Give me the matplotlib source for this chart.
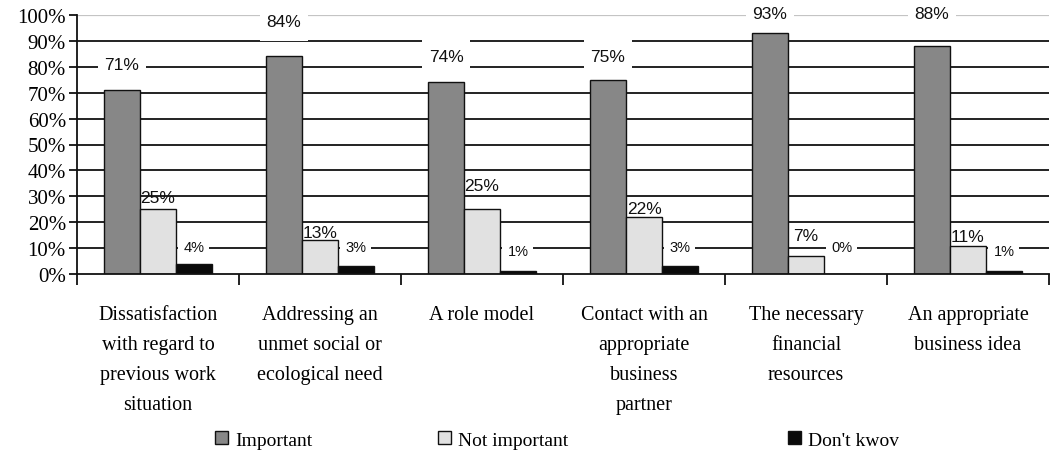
import matplotlib
matplotlib.use("Agg")
import matplotlib.pyplot as plt
import matplotlib.transforms as mtransforms
from matplotlib.patches import Patch, Rectangle
import numpy as np

# ── Data ──────────────────────────────────────────────────────────────────────
categories = [
    "Dissatisfaction\nwith regard to\nprevious work\nsituation",
    "Addressing an\nunmet social or\necological need",
    "A role model",
    "Contact with an\nappropriate\nbusiness\npartner",
    "The necessary\nfinancial\nresources",
    "An appropriate\nbusiness idea",
]
series_names = ["Important", "Not important", "Don't kwov"]
important     = [71, 84, 74, 75, 93, 88]
not_important = [25, 13, 25, 22, 7, 11]
dont_know     = [4, 3, 1, 3, 0, 1]
yticks = [0, 10, 20, 30, 40, 50, 60, 70, 80, 90, 100]

# label heights (in % units) where the value labels sit
label_y = [
    [81, 97.5, 83.8, 83.8, 100.4, 100.4],
    [29.7, 16.2, 34, 25.1, 14.7, 14.3],
    [10.4, 10.4, 8.9, 10.4, 10.4, 8.9],
]

# ── Style ─────────────────────────────────────────────────────────────────────
SERIF = "Liberation Serif"
SANS = "Liberation Sans"
colors = ["#878787", "#e1e1e1", "#0a0a0a"]
label_sizes = [12.5, 12.5, 10.5]
# white knock-out box behind each label (inches); None = no box
label_box = [(0.48, 0.40), None, (0.31, 0.22)]
BAR_W = 0.222

fig = plt.figure(figsize=(10.51, 4.60), dpi=100)
ax = fig.add_axes([77 / 1051, 1 - 275 / 460, 972 / 1051, 259 / 460])

x = np.arange(len(categories)) + 0.5
all_series = [important, not_important, dont_know]

# gridlines (grey top line at 100%)
for v in yticks[1:-1]:
    ax.axhline(v, color="#111111", lw=1.3, zorder=1)
ax.axhline(100, color="#c4c4c4", lw=1.6, zorder=1)

for i, (vals, col) in enumerate(zip(all_series, colors)):
    xs = x + (i - 1) * BAR_W
    ax.bar(xs, vals, width=BAR_W, color=col, edgecolor="#111111",
           linewidth=1.0, zorder=2)
    for xi, v, ly in zip(xs, vals, label_y[i]):
        if label_box[i] is not None:
            bw, bh = label_box[i]
            tr = fig.dpi_scale_trans + mtransforms.ScaledTranslation(
                xi, ly, ax.transData)
            ax.add_patch(Rectangle((-bw / 2, -bh / 2), bw, bh, transform=tr,
                                   facecolor="white", edgecolor="none",
                                   zorder=1.5, clip_on=False))
        ax.text(xi, ly, f"{v}%", ha="center", va="center",
                fontsize=label_sizes[i], family=SANS, color="#111111",
                zorder=4)

ax.set_xlim(0, len(categories))
ax.set_ylim(0, 100)

for side in ["top", "right"]:
    ax.spines[side].set_visible(False)
for side in ["left", "bottom"]:
    ax.spines[side].set_color("#111111")
    ax.spines[side].set_linewidth(1.3)
    ax.spines[side].set_zorder(3)

ax.set_yticks(yticks)
ax.set_yticklabels([f"{v}%" for v in yticks], family=SERIF, fontsize=15)
ax.tick_params(axis="y", direction="out", length=6, width=1.3, pad=2,
               color="#111111")

# category boundaries as major ticks, names on minor ticks
ax.set_xticks(np.arange(len(categories) + 1))
ax.set_xticklabels([])
ax.tick_params(axis="x", which="major", direction="out", length=8, width=1.3,
               color="#111111")
ax.set_xticks(x, minor=True)
ax.set_xticklabels(categories, minor=True, family=SERIF, fontsize=14.5,
                   linespacing=1.8, va="top")
ax.tick_params(axis="x", which="minor", length=0, pad=22)

# legend entries placed individually
legend_x = [0.205, 0.417, 0.750]
for name, col, lx in zip(series_names, colors, legend_x):
    h = Patch(facecolor=col, edgecolor="#111111", linewidth=1.0)
    fig.legend(handles=[h], labels=[name], loc="center left",
               bbox_to_anchor=(lx, 0.041), frameon=False, borderpad=0,
               borderaxespad=0, handlelength=0.65, handleheight=0.65,
               handletextpad=0.35, prop={"family": SERIF, "size": 14})

fig.savefig("out.png", dpi=100)
